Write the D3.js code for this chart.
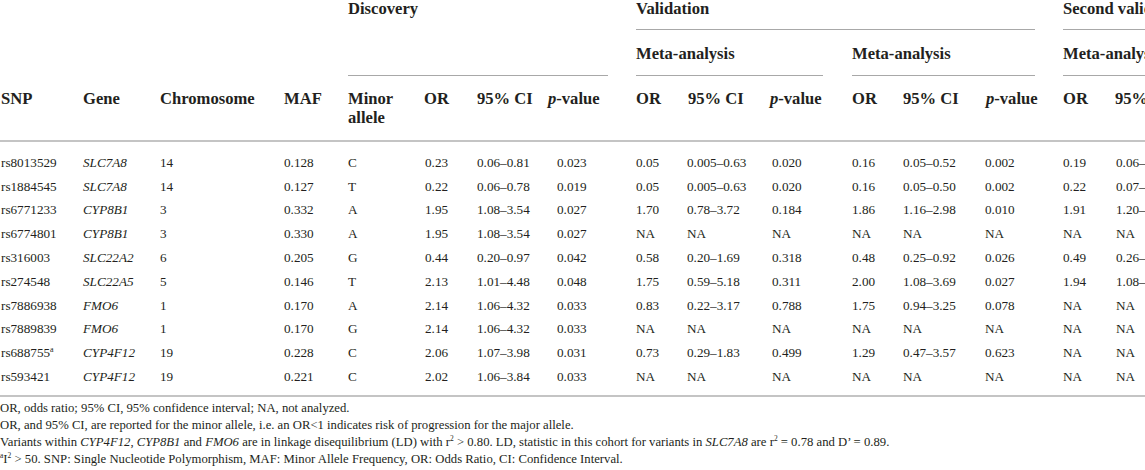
<!DOCTYPE html>
<html>
<head>
<meta charset="utf-8">
<script src="https://cdn.jsdelivr.net/npm/d3@7"></script>
<style>
  html, body { margin: 0; padding: 0; background: #fff; overflow: hidden; }
  svg { display: block; }
  text { font-family: "Liberation Serif", "DejaVu Serif", serif; fill: #231f20; }
</style>
</head>
<body>
<svg id="chart" width="1145" height="470"></svg>
<script>
// ---- data ----
const snps = ["rs8013529","rs1884545","rs6771233","rs6774801","rs316003","rs274548","rs7886938","rs7889839","rs688755","rs593421"];
const snpNote = ["","","","","","","","","a",""];
const genes = ["SLC7A8","SLC7A8","CYP8B1","CYP8B1","SLC22A2","SLC22A5","FMO6","FMO6","CYP4F12","CYP4F12"];
const chromosomes = ["14","14","3","3","6","5","1","1","19","19"];
const maf = ["0.128","0.127","0.332","0.330","0.205","0.146","0.170","0.170","0.228","0.221"];
const minorAllele = ["C","T","A","A","G","T","A","G","C","C"];
const discOR = ["0.23","0.22","1.95","1.95","0.44","2.13","2.14","2.14","2.06","2.02"];
const discCI = ["0.06–0.81","0.06–0.78","1.08–3.54","1.08–3.54","0.20–0.97","1.01–4.48","1.06–4.32","1.06–4.32","1.07–3.98","1.06–3.84"];
const discP = ["0.023","0.019","0.027","0.027","0.042","0.048","0.033","0.033","0.031","0.033"];
const val1OR = ["0.05","0.05","1.70","NA","0.58","1.75","0.83","NA","0.73","NA"];
const val1CI = ["0.005–0.63","0.005–0.63","0.78–3.72","NA","0.20–1.69","0.59–5.18","0.22–3.17","NA","0.29–1.83","NA"];
const val1P = ["0.020","0.020","0.184","NA","0.318","0.311","0.788","NA","0.499","NA"];
const val2OR = ["0.16","0.16","1.86","NA","0.48","2.00","1.75","NA","1.29","NA"];
const val2CI = ["0.05–0.52","0.05–0.50","1.16–2.98","NA","0.25–0.92","1.08–3.69","0.94–3.25","NA","0.47–3.57","NA"];
const val2P = ["0.002","0.002","0.010","NA","0.026","0.027","0.078","NA","0.623","NA"];
const secOR = ["0.19","0.22","1.91","NA","0.49","1.94","NA","NA","NA","NA"];
const secCI = ["0.06–0","0.07–0","1.20–3","NA","0.26–0","1.08–3","NA","NA","NA","NA"];

const columnKeys = ["snp","gene","chrom","maf","allele","dOR","dCI","dP","v1OR","v1CI","v1P","v2OR","v2CI","v2P","sOR","sCI"];
const columnHeaders = ["SNP","Gene","Chromosome","MAF","Minor","OR","95% CI","p-value","OR","95% CI","p-value","OR","95% CI","p-value","OR","95% CI"];
const groupHeaders = ["Discovery","Validation","Second validation"];
const subHeaders = ["Meta-analysis","Meta-analysis","Meta-analysis"];

// ---- layout ----
const svg = d3.select("#chart");
const W = 1145;
const HFS = 16.6;

const colX = d3.scaleOrdinal().domain(columnKeys)
  .range([1, 83, 160, 284, 348, 425, 477, 557, 636, 687, 772, 852, 903, 985, 1063, 1116]);
const headX = d3.scaleOrdinal().domain(columnKeys)
  .range([1, 83, 160, 284, 348, 424, 477, 548, 636, 688, 770, 852, 903, 986, 1063, 1115]);

const rowY = d3.scaleBand().domain(d3.range(snps.length)).range([150, 388]).paddingInner(0);

const lineColor = "#a8a8a8";
const thickColor = "#c4c4c4";

// group headers
const groupX = [348, 636, 1063];
svg.selectAll("text.grp").data(groupHeaders).join("text")
  .attr("class","grp").attr("x",(d,i)=>groupX[i]).attr("y",14)
  .attr("font-size",HFS).attr("font-weight","bold").text(d=>d);

// line under Validation / Second validation
const line1 = [[636,1035],[1063,W]];
svg.selectAll("line.l1").data(line1).join("line")
  .attr("x1",d=>d[0]).attr("x2",d=>d[1]).attr("y1",29.5).attr("y2",29.5)
  .attr("stroke",lineColor).attr("stroke-width",1);

// sub headers
const subX = [636, 852, 1063];
svg.selectAll("text.sub").data(subHeaders).join("text")
  .attr("class","sub").attr("x",(d,i)=>subX[i]).attr("y",59)
  .attr("font-size",HFS).attr("font-weight","bold").text(d=>d);

const line2 = [[348,608],[636,823],[852,1035],[1063,W]];
svg.selectAll("line.l2").data(line2).join("line")
  .attr("x1",d=>d[0]).attr("x2",d=>d[1]).attr("y1",75.5).attr("y2",75.5)
  .attr("stroke",lineColor).attr("stroke-width",1);

// column headers
const hdr = svg.selectAll("text.hdr").data(columnKeys).join("text")
  .attr("class","hdr").attr("x",d=>headX(d)).attr("y",104)
  .attr("font-size",HFS).attr("font-weight","bold");
hdr.each(function(d,i){
  const t = d3.select(this);
  const label = columnHeaders[i];
  if (label === "p-value") {
    t.append("tspan").attr("font-style","italic").text("p");
    t.append("tspan").text("-value");
  } else {
    t.text(label);
  }
});
svg.append("text").attr("x",headX("allele")).attr("y",123)
  .attr("font-size",HFS).attr("font-weight","bold").text("allele");

// thick header rule
svg.append("line").attr("x1",0).attr("x2",W).attr("y1",141).attr("y2",141)
  .attr("stroke",thickColor).attr("stroke-width",2);

// data rows
const columns = {
  snp: snps, gene: genes, chrom: chromosomes, maf: maf, allele: minorAllele,
  dOR: discOR, dCI: discCI, dP: discP,
  v1OR: val1OR, v1CI: val1CI, v1P: val1P,
  v2OR: val2OR, v2CI: val2CI, v2P: val2P,
  sOR: secOR, sCI: secCI
};
const cells = [];
d3.range(snps.length).forEach(r => {
  columnKeys.forEach(k => cells.push({r, k, v: columns[k][r]}));
});
svg.selectAll("text.cell").data(cells).join("text")
  .attr("class","cell")
  .attr("x",d=>colX(d.k))
  .attr("y",d=>rowY(d.r) + rowY.bandwidth()/2 + 4.8)
  .attr("font-size",13.2)
  .attr("font-style",d=>d.k==="gene" ? "italic" : "normal")
  .each(function(d){
    const t = d3.select(this);
    t.append("tspan").text(d.v);
    if (d.k === "snp" && snpNote[d.r]) {
      t.append("tspan").attr("font-size",8).attr("dy",-5).text(snpNote[d.r]);
    }
  });

// bottom rule
svg.append("line").attr("x1",0).attr("x2",W).attr("y1",396).attr("y2",396)
  .attr("stroke",thickColor).attr("stroke-width",2);

// footnotes
const footnotes = [
  [["OR, odds ratio; 95% CI, 95% confidence interval; NA, not analyzed.",""]],
  [["OR, and 95% CI, are reported for the minor allele, i.e. an OR<1 indicates risk of progression for the major allele.",""]],
  [["Variants within ",""],["CYP4F12","i"],[", ",""],["CYP8B1","i"],[" and ",""],["FMO6","i"],[" are in linkage disequilibrium (LD) with r",""],["2","sup"],[" > 0.80. LD, statistic in this cohort for variants in ",""],["SLC7A8","i"],[" are r",""],["2","sup"],[" = 0.78 and D’ = 0.89.",""]],
  [["a","sup"],["I",""],["2","sup"],[" > 50. SNP: Single Nucleotide Polymorphism, MAF: Minor Allele Frequency, OR: Odds Ratio, CI: Confidence Interval.",""]]
];
const footY = [412, 429, 446, 463];
svg.selectAll("text.foot").data(footnotes).join("text")
  .attr("class","foot").attr("x",0).attr("y",(d,i)=>footY[i])
  .attr("font-size",12.7)
  .each(function(parts){
    const t = d3.select(this);
    let raised = false;
    parts.forEach(([s,style])=>{
      const sp = t.append("tspan").text(s);
      if (style === "i") sp.attr("font-style","italic");
      if (style === "sup") {
        sp.attr("font-size",7.5).attr("dy", raised ? 0 : -5);
        raised = true;
      } else if (raised) {
        sp.attr("dy",5);
        raised = false;
      }
    });
  });
</script>
</body>
</html>
